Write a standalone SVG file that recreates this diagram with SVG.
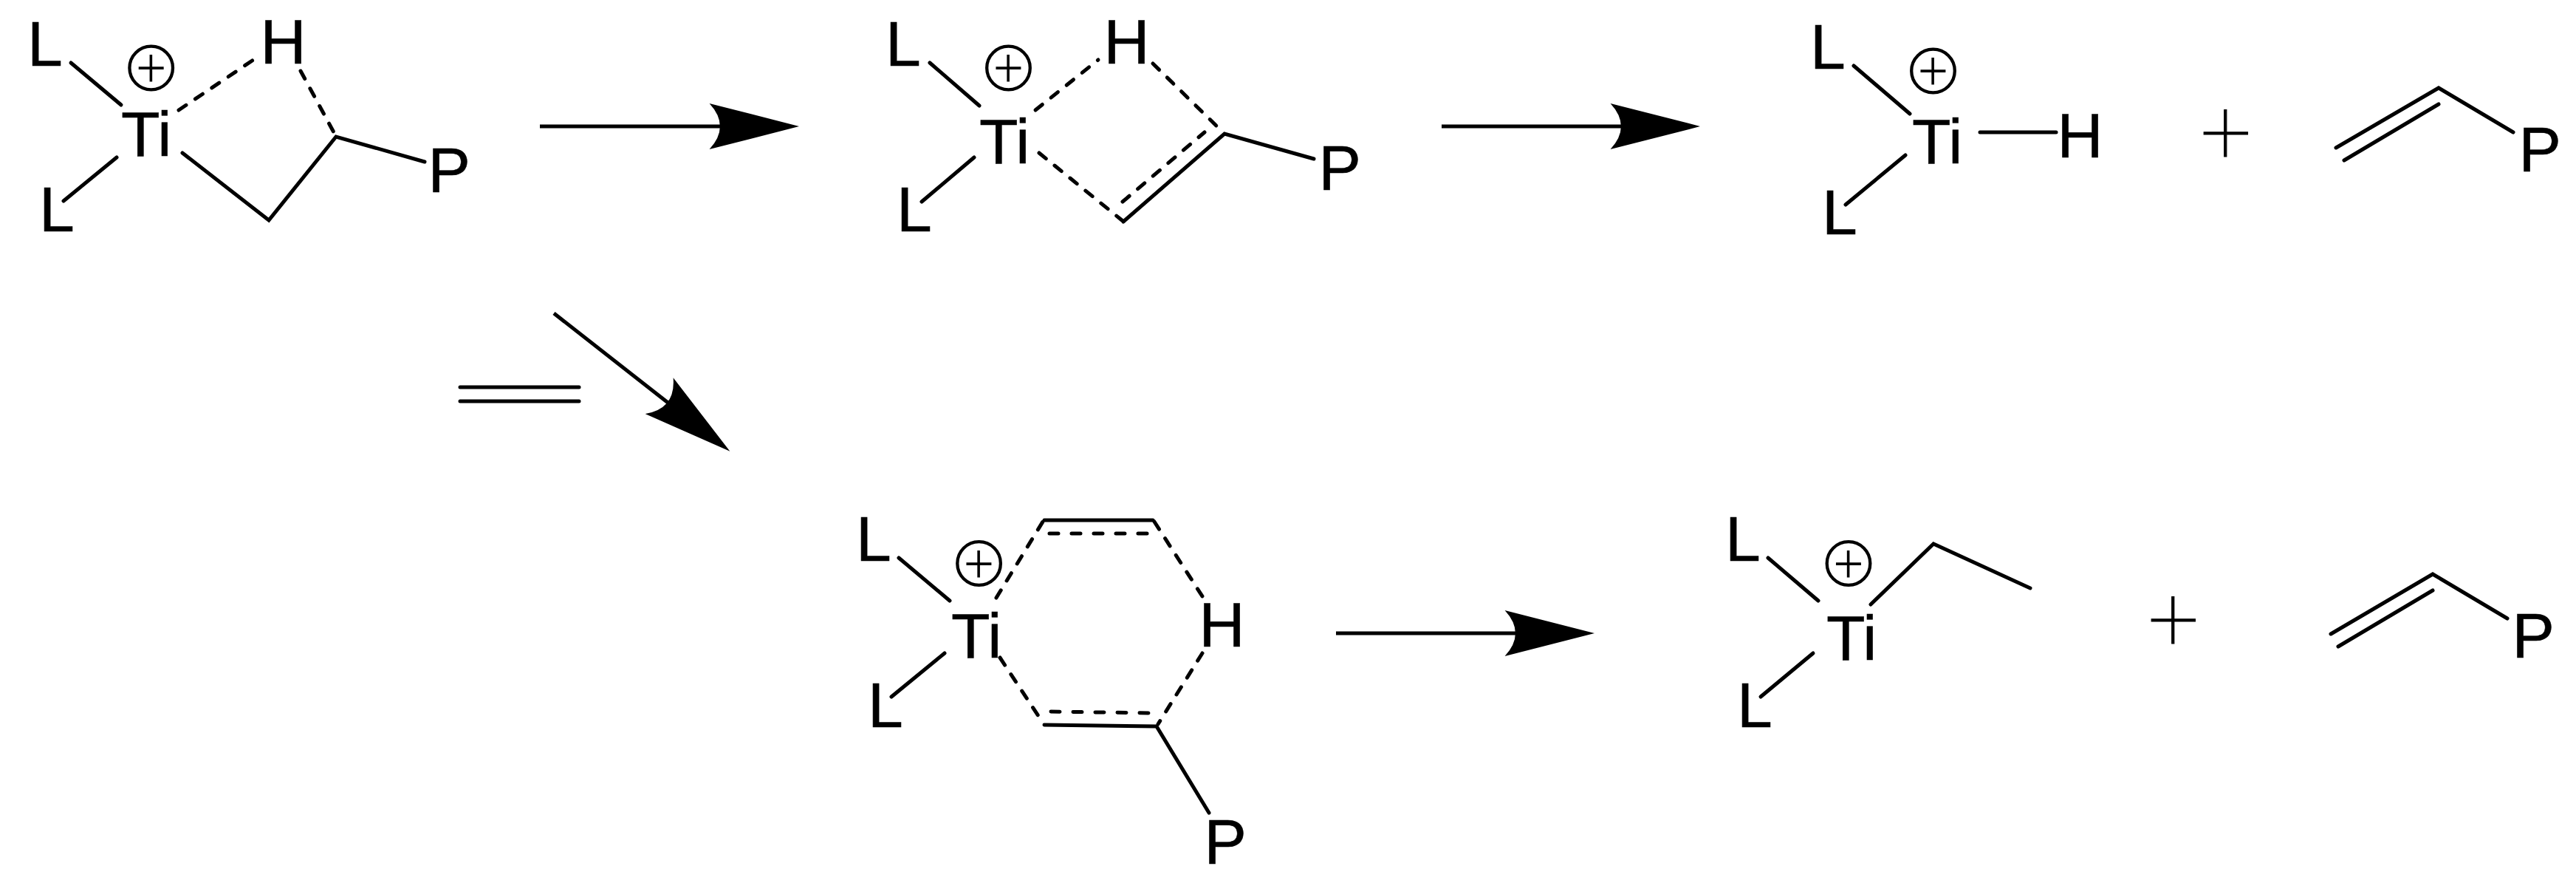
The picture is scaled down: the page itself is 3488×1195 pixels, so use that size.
<svg xmlns="http://www.w3.org/2000/svg" width="3488" height="1195" viewBox="0 0 3488 1195">
<style>
text{font-family:"Liberation Sans",Arial,sans-serif;font-size:86px;fill:#000;stroke:#000;stroke-width:.6}
text.pm{font-family:Roboto,"Liberation Sans",sans-serif;font-weight:100;text-anchor:middle}
text.c{font-size:66px;stroke-width:1.8}
text.r{font-size:122px;stroke-width:1}
.b{fill:none;stroke:#000;stroke-width:5;stroke-linecap:round;stroke-linejoin:miter}
.d{stroke-dasharray:12 15}
.d2{stroke-dasharray:12 18}
.a{stroke-linecap:butt}
.ring{fill:none;stroke:#000;stroke-width:4.3}
</style>
<defs>
<marker id="head" markerUnits="userSpaceOnUse" markerWidth="122" markerHeight="62" viewBox="0 0 119 60.6" refX="18" refY="30.3" orient="auto">
<path d="M119 30.3L0 0Q28 30.3 0 60.6Z" fill="#000"/>
</marker>
</defs>
<rect width="3488" height="1195" fill="#fff"/>
<g id="connectors">
<!-- species 1 -->
<path class="b" d="M96 85L164 142"/>
<path class="b" d="M158 213L86 272"/>
<path class="b d" d="M242 149L346 79"/>
<path class="b d" d="M407 96L453 181"/>
<path class="b" d="M247 207L364 298L455 185L575 219"/>
<!-- species 2 -->
<path class="b" d="M1259 85L1326 143"/>
<path class="b" d="M1319 213L1248 273"/>
<path class="b d" d="M1402 149L1487 81"/>
<path class="b d" d="M1561 86L1656 179"/>
<path class="b d" d="M1407 207L1519 298"/>
<path class="b" d="M1521 300L1658 181L1779 215"/>
<path class="b d" d="M1520 273L1631 179"/>
<!-- species 3 -->
<path class="b" d="M2510 89L2586 154"/>
<path class="b" d="M2580 210L2499 277"/>
<path class="b" d="M2681 179H2784"/>
<path class="b" d="M3163 200L3302 119L3403 179"/>
<path class="b" d="M3174 217L3302 141"/>
<!-- ethylene -->
<path class="b" d="M623 524H784"/>
<path class="b" d="M623 543H784"/>
<!-- species 4 -->
<path class="b" d="M1217 755L1286 813"/>
<path class="b" d="M1279 884L1207 943"/>
<path class="b d" d="M1349 809L1412 706"/>
<path class="b" d="M1414 704H1561"/>
<path class="b d2" d="M1421 722H1553"/>
<path class="b d" d="M1563 706L1628 807"/>
<path class="b d" d="M1628 884L1568 980"/>
<path class="b" d="M1414 981L1566 983L1637 1100"/>
<path class="b d2" d="M1423 963L1558 965"/>
<path class="b d" d="M1354 890L1412 978"/>
<!-- species 5 -->
<path class="b" d="M2394 755L2462 813"/>
<path class="b" d="M2455 884L2384 943"/>
<path class="b" d="M2533 818L2618 736L2749 796"/>
<path class="b" d="M3156 858L3294 777L3395 837"/>
<path class="b" d="M3166 875L3294 799"/>
<!-- arrows -->
<path class="b a" d="M731 171H979" marker-end="url(#head)"/>
<path class="b a" d="M1952 171H2199" marker-end="url(#head)"/>
<path class="b a" d="M1809 857H2056" marker-end="url(#head)"/>
<path class="b a" d="M750 424L907 547" marker-end="url(#head)"/>
</g>
<g id="species-1">
<g id="s1-L1"><text x="37" y="89">L</text></g>
<g id="s1-L2"><text x="53" y="313">L</text></g>
<g id="s1-Ti"><text x="164" y="211">Ti</text></g>
<g id="s1-H"><text x="352.5" y="86">H</text></g>
<g id="s1-P"><text x="579.5" y="260">P</text></g>
<g id="s1-charge"><circle class="ring" cx="204.7" cy="92" r="29.3"/><text class="pm c" x="204.7" y="114">+</text></g>
</g>
<g id="species-2">
<g id="s2-L1"><text x="1199" y="89">L</text></g>
<g id="s2-L2"><text x="1214" y="313">L</text></g>
<g id="s2-Ti"><text x="1326" y="221">Ti</text></g>
<g id="s2-H"><text x="1494.5" y="86">H</text></g>
<g id="s2-P"><text x="1785.5" y="257">P</text></g>
<g id="s2-charge"><circle class="ring" cx="1365.5" cy="92" r="29.3"/><text class="pm c" x="1365.5" y="114">+</text></g>
</g>
<g id="species-3">
<g id="s3-L1"><text x="2451" y="93">L</text></g>
<g id="s3-L2"><text x="2467" y="317">L</text></g>
<g id="s3-Ti"><text x="2589" y="221">Ti</text></g>
<g id="s3-H"><text x="2785.5" y="213">H</text></g>
<g id="s3-P"><text x="3410.5" y="232">P</text></g>
<g id="s3-charge"><circle class="ring" cx="2617.5" cy="96" r="29.3"/><text class="pm c" x="2617.5" y="118">+</text></g>
</g>
<g id="plus-1"><text class="pm r" x="3014" y="221">+</text></g>
<g id="species-4">
<g id="s4-L1"><text x="1159" y="759">L</text></g>
<g id="s4-L2"><text x="1175" y="984">L</text></g>
<g id="s4-Ti"><text x="1288" y="890">Ti</text></g>
<g id="s4-H"><text x="1623.5" y="875">H</text></g>
<g id="s4-P"><text x="1630.5" y="1169">P</text></g>
<g id="s4-charge"><circle class="ring" cx="1325.6" cy="762.5" r="29.3"/><text class="pm c" x="1325.6" y="784.5">+</text></g>
</g>
<g id="species-5">
<g id="s5-L1"><text x="2336" y="759">L</text></g>
<g id="s5-L2"><text x="2352" y="984">L</text></g>
<g id="s5-Ti"><text x="2473" y="893">Ti</text></g>
<g id="s5-P"><text x="3401.5" y="890">P</text></g>
<g id="s5-charge"><circle class="ring" cx="2503" cy="762.5" r="29.3"/><text class="pm c" x="2503" y="784.5">+</text></g>
</g>
<g id="plus-2"><text class="pm r" x="2943" y="880">+</text></g>
</svg>
